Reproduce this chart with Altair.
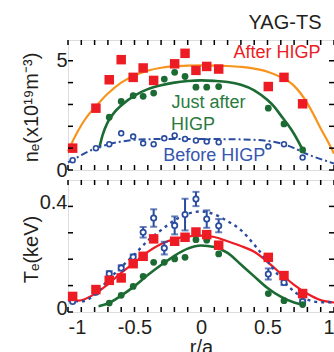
import altair as alt
import pandas as pd

# ---------------- electron density n_e (x1e19 m^-3) ----------------
ne_after_r = [-0.965, -0.79, -0.69, -0.60, -0.51, -0.435, -0.356, -0.198, -0.12, -0.038, 0.043, 0.133, 0.506, 0.624, 0.764]
ne_after = [1.0, 2.83, 4.13, 5.05, 4.24, 4.67, 4.10, 4.86, 5.34, 4.56, 4.74, 4.62, 3.82, 4.24, 3.03]

ne_just_r = [-0.69, -0.60, -0.51, -0.435, -0.356, -0.276, -0.198, -0.12, -0.038, 0.043, 0.133, 0.506, 0.624, 0.764]
ne_just = [2.42, 3.14, 3.40, 3.37, 3.52, 4.16, 4.47, 4.28, 3.79, 3.79, 3.82, 2.83, 2.11, 0.92]

ne_before_r = [-0.965, -0.79, -0.69, -0.60, -0.51, -0.435, -0.356, -0.276, -0.198, -0.12, -0.038, 0.043, 0.133, 0.506, 0.624, 0.764]
ne_before = [0.45, 1.0, 1.18, 1.68, 1.53, 1.22, 1.18, 1.45, 1.58, 1.42, 1.35, 1.30, 1.27, 1.07, 1.18, 0.57]

# fitted profiles
ne_fit_after_r = [-1.0, -0.95, -0.9, -0.85, -0.8, -0.7, -0.6, -0.5, -0.4, -0.3, -0.2, -0.1, 0.0, 0.1, 0.2, 0.3, 0.4, 0.5, 0.6, 0.7, 0.8, 0.85, 0.9, 0.95, 1.0]
ne_fit_after = [0.85, 1.5, 2.05, 2.5, 2.85, 3.5, 4.0, 4.33, 4.55, 4.68, 4.75, 4.78, 4.79, 4.78, 4.76, 4.72, 4.64, 4.5, 4.25, 3.85, 3.05, 2.5, 1.9, 1.35, 0.75]

ne_fit_just_r = [-0.765, -0.74, -0.7, -0.65, -0.6, -0.5, -0.4, -0.3, -0.2, -0.1, 0.0, 0.1, 0.2, 0.3, 0.4, 0.5, 0.55, 0.6, 0.65, 0.7, 0.765]
ne_fit_just = [1.0, 1.6, 2.2, 2.65, 2.95, 3.4, 3.7, 3.88, 4.0, 4.07, 4.1, 4.08, 4.03, 3.9, 3.65, 3.2, 2.9, 2.5, 2.1, 1.65, 0.92]

ne_fit_before_r = [-1.0, -0.9, -0.8, -0.7, -0.6, -0.5, -0.4, -0.2, 0.0, 0.2, 0.4, 0.5, 0.6, 0.7, 0.8, 0.9, 1.0]
ne_fit_before = [0.35, 0.68, 0.98, 1.17, 1.3, 1.38, 1.41, 1.42, 1.42, 1.41, 1.38, 1.33, 1.22, 1.0, 0.72, 0.5, 0.3]

# ---------------- electron temperature T_e (keV) ----------------
te_after_r = ne_after_r
te_after = [0.059, 0.085, 0.12, 0.129, 0.183, 0.211, 0.277, 0.268, 0.283, 0.303, 0.293, 0.253, 0.207, 0.138, 0.07]

te_just_r = ne_just_r
te_just = [0.034, 0.063, 0.097, 0.135, 0.188, 0.188, 0.201, 0.207, 0.274, 0.272, 0.22, 0.07, 0.043, 0.028]

te_before_r = ne_before_r
te_before = [0.04, 0.075, 0.145, 0.167, 0.208, 0.302, 0.356, 0.242, 0.328, 0.369, 0.428, 0.352, 0.327, 0.144, 0.112, 0.04]
te_before_err = [0.0, 0.0, 0.01, 0.01, 0.01, 0.02, 0.033, 0.024, 0.034, 0.06, 0.027, 0.033, 0.025, 0.021, 0.01, 0.008]

te_fit_after_r = [-1.0, -0.92, -0.8, -0.7, -0.6, -0.5, -0.4, -0.3, -0.2, -0.1, 0.0, 0.1, 0.2, 0.3, 0.4, 0.5, 0.6, 0.7, 0.8, 0.9, 1.0]
te_fit_after = [0.05, 0.043, 0.068, 0.105, 0.148, 0.187, 0.228, 0.258, 0.276, 0.286, 0.289, 0.284, 0.268, 0.25, 0.228, 0.19, 0.145, 0.103, 0.069, 0.045, 0.036]

te_fit_just_r = [-0.77, -0.7, -0.6, -0.5, -0.4, -0.3, -0.2, -0.1, 0.0, 0.1, 0.2, 0.3, 0.4, 0.5, 0.6, 0.7, 0.765]
te_fit_just = [0.022, 0.032, 0.062, 0.098, 0.14, 0.178, 0.213, 0.24, 0.252, 0.246, 0.224, 0.18, 0.135, 0.091, 0.058, 0.036, 0.028]

te_fit_before_r = [-1.0, -0.9, -0.8, -0.7, -0.6, -0.5, -0.4, -0.3, -0.2, -0.1, 0.0, 0.1, 0.2, 0.3, 0.4, 0.5, 0.6, 0.7, 0.8, 0.9, 1.0]
te_fit_before = [0.044, 0.04, 0.065, 0.12, 0.17, 0.218, 0.27, 0.31, 0.347, 0.372, 0.381, 0.37, 0.344, 0.31, 0.255, 0.192, 0.129, 0.078, 0.047, 0.037, 0.037]

# axis ticks
r_ticks = [-1.0, -0.9, -0.8, -0.7, -0.6, -0.5, -0.4, -0.3, -0.2, -0.1, 0.0,
           0.1, 0.2, 0.3, 0.4, 0.5, 0.6, 0.7, 0.8, 0.9, 1.0]
r_labels = [-1, -0.5, 0, 0.5, 1]
ne_ticks = [0, 1, 2, 3, 4, 5]
ne_labels = [0, 5]
te_ticks = [0, 0.1, 0.2, 0.3, 0.4]
te_labels = [0, 0.4]

# ---------------- style ----------------
FONT = "Liberation Sans"
W = 266
H_TOP = 130
H_BOT = 132
GAP = 10
LEFT = 68
TOP = 40
RED = "#ed1c24"
ORANGE = "#f7941d"
GREEN = "#1b6b33"
GREEN_TXT = "#2a7a3e"
BLUE = "#2a4c9e"
BLUE_TXT = "#3656b0"
INK = "#231f20"

# plain numbers with an ASCII hyphen for negatives, "0" for zero
NUM_LABEL = "datum.value == 0 ? '0' : (datum.value < 0 ? '-' : '') + format(abs(datum.value), '')"

x_scale = alt.Scale(domain=[-1, 1], nice=False, zero=False)
ne_scale = alt.Scale(domain=[0, 5.95], nice=False)
te_scale = alt.Scale(domain=[0, 0.5], nice=False)

top_x_axis = alt.Axis(labels=False, ticks=False, domain=False, grid=False, title=None)
bot_x_axis = alt.Axis(values=r_labels, labelExpr=NUM_LABEL,
                      labelFont=FONT, labelFontSize=20, labelColor=INK, labelPadding=5.5,
                      ticks=False, tickSize=0, domain=False, grid=False,
                      title="r/a", titleFont=FONT, titleFontSize=20, titleFontWeight="normal",
                      titleColor=INK, titlePadding=0)
ne_axis = alt.Axis(values=ne_labels, labelExpr=NUM_LABEL, labelFont=FONT, labelFontSize=20,
                   labelColor=INK, labelPadding=1,
                   ticks=False, tickSize=0, domain=False, grid=False,
                   title="nₑ(x10¹⁹m⁻³)", titleFont=FONT, titleFontSize=20, titleFontWeight="normal",
                   titleColor=INK, titleAngle=270, titleX=-37, titleY=67,
                   titleAlign="center", titleBaseline="middle")
te_axis = alt.Axis(values=te_labels, labelExpr=NUM_LABEL, labelFont=FONT, labelFontSize=20,
                   labelColor=INK, labelPadding=1,
                   labelOffset=-3.5, ticks=False, tickSize=0, domain=False, grid=False,
                   title="Tₑ(keV)", titleFont=FONT, titleFontSize=20, titleFontWeight="normal",
                   titleColor=INK, titleAngle=270, titleX=-37, titleY=69,
                   titleAlign="center", titleBaseline="middle")


def curve(r, v, color, xaxis, yscale, yaxis, width=2.0, dash=None):
    kw = dict(color=color, strokeWidth=width, interpolate="monotone")
    if dash:
        kw["strokeDash"] = dash
    return alt.Chart(pd.DataFrame({"r": r, "v": v})).mark_line(**kw).encode(
        x=alt.X("r:Q", scale=x_scale, axis=xaxis),
        y=alt.Y("v:Q", scale=yscale, axis=yaxis))


def points(r, v, mark, xaxis, yscale, yaxis):
    return mark.encode(x=alt.X("r:Q", scale=x_scale, axis=xaxis),
                       y=alt.Y("v:Q", scale=yscale, axis=yaxis)).properties(
        data=pd.DataFrame({"r": r, "v": v}))


def inward_ticks(h, yscale, yticks, xaxis, yaxis):
    rt = pd.DataFrame({"r": r_ticks})
    yt = pd.DataFrame({"v": yticks})
    X = alt.X("r:Q", scale=x_scale, axis=xaxis)
    Y = alt.Y("v:Q", scale=yscale, axis=yaxis)
    rule = dict(color="black", strokeWidth=1.5)
    return [
        alt.Chart(yt).mark_rule(**rule).encode(y=Y, x=alt.value(0), x2=alt.value(5)),
        alt.Chart(yt).mark_rule(**rule).encode(y=Y, x=alt.value(W), x2=alt.value(W - 5)),
        alt.Chart(rt).mark_rule(**rule).encode(x=X, y=alt.value(0), y2=alt.value(5)),
        alt.Chart(rt).mark_rule(**rule).encode(x=X, y=alt.value(h), y2=alt.value(h - 5)),
    ]


dummy = pd.DataFrame({"k": [0]})


def label(text, color, px, py, size=18):
    return alt.Chart(dummy).mark_text(text=text, color=color, font=FONT, fontSize=size,
                                      align="center", baseline="middle").encode(
        x=alt.value(px), y=alt.value(py))


# ---------------- density panel ----------------
ax = (top_x_axis, ne_scale, ne_axis)
top = alt.layer(
    curve(ne_fit_after_r, ne_fit_after, ORANGE, *ax, width=2.2),
    curve(ne_fit_just_r, ne_fit_just, GREEN, *ax, width=2.6),
    curve(ne_fit_before_r, ne_fit_before, BLUE, *ax, width=2.0, dash=[7, 3, 2, 3]),
    points(ne_before_r, ne_before,
           alt.Chart().mark_point(shape="circle", filled=True, fill="white", stroke=BLUE,
                                  strokeWidth=1.6, size=24, opacity=1), *ax),
    points(ne_just_r, ne_just,
           alt.Chart().mark_point(shape="circle", filled=True, color=GREEN, size=46, opacity=1), *ax),
    points(ne_after_r, ne_after,
           alt.Chart().mark_point(shape="square", filled=True, color=RED, size=90, opacity=1), *ax),
    *inward_ticks(H_TOP, ne_scale, ne_ticks, top_x_axis, ne_axis),
    label("After HIGP", RED, 209, 13),
    label("Just after", GREEN_TXT, 140.5, 63),
    label("HIGP", GREEN_TXT, 125, 85.3),
    label("Before HIGP", BLUE_TXT, 146.3, 116.3),
    label("YAG-TS", INK, 217, -17, size=20),
).properties(width=W, height=H_TOP)

# ---------------- temperature panel ----------------
bx = (bot_x_axis, te_scale, te_axis)
err_df = pd.DataFrame({"r": te_before_r, "v": te_before, "e": te_before_err})
err_df = err_df[err_df["e"] > 0]
err_df = err_df.assign(lo=err_df["v"] - err_df["e"], hi=err_df["v"] + err_df["e"])
EX = alt.X("r:Q", scale=x_scale, axis=bot_x_axis)
bottom = alt.layer(
    curve(te_fit_after_r, te_fit_after, RED, *bx, width=2.2),
    curve(te_fit_just_r, te_fit_just, GREEN, *bx, width=2.6),
    curve(te_fit_before_r, te_fit_before, BLUE, *bx, width=2.4, dash=[3, 4]),
    alt.Chart(err_df).mark_rule(color=BLUE, strokeWidth=2).encode(
        x=EX, y=alt.Y("lo:Q", scale=te_scale, axis=te_axis), y2="hi:Q"),
    alt.Chart(err_df).mark_tick(color=BLUE, orient="horizontal", size=7, thickness=2).encode(
        x=EX, y=alt.Y("lo:Q", scale=te_scale, axis=te_axis)),
    alt.Chart(err_df).mark_tick(color=BLUE, orient="horizontal", size=7, thickness=2).encode(
        x=EX, y=alt.Y("hi:Q", scale=te_scale, axis=te_axis)),
    points(te_before_r, te_before,
           alt.Chart().mark_point(shape="circle", filled=True, fill="white", stroke=BLUE,
                                  strokeWidth=1.8, size=28, opacity=1), *bx),
    points(te_just_r, te_just,
           alt.Chart().mark_point(shape="circle", filled=True, color=GREEN, size=46, opacity=1), *bx),
    points(te_after_r, te_after,
           alt.Chart().mark_point(shape="square", filled=True, color=RED, size=90, opacity=1), *bx),
    *inward_ticks(H_BOT, te_scale, te_ticks, bot_x_axis, te_axis),
).properties(width=W, height=H_BOT)

# fixed 334x352 canvas: the panels start at (LEFT, TOP); anything beyond is cropped.
# With autosize "none" the stacked view reports the panel width but no height,
# so the bottom padding carries the full remaining height.
chart = alt.vconcat(top, bottom, spacing=GAP, bounds="flush").properties(
    autosize=alt.AutoSizeParams(type="none"),
    padding={"left": LEFT, "top": TOP, "right": 334 - LEFT - W, "bottom": 352 - TOP},
).configure_view(stroke="black", strokeWidth=2).configure(background="white")

chart.save("out.html", embed_options={"renderer": "svg", "actions": False})
